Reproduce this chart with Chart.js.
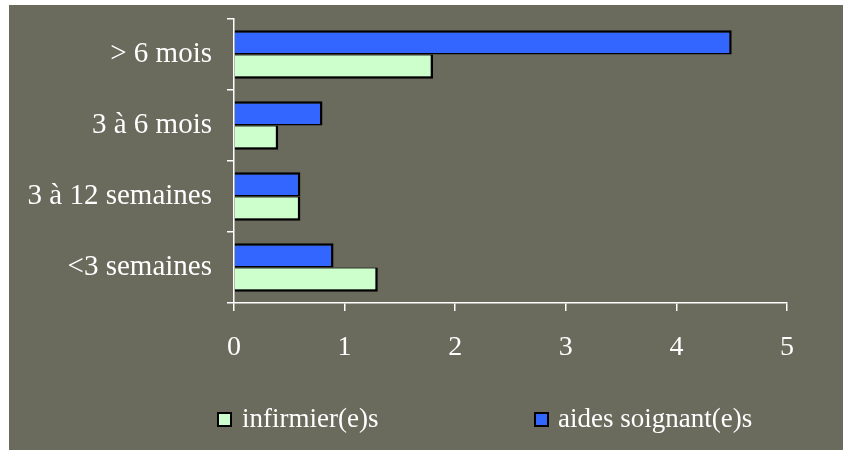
<!DOCTYPE html>
<html><head><meta charset="utf-8">
<script src="https://cdn.jsdelivr.net/npm/chart.js@4"></script>
<style>
html,body{margin:0;padding:0;background:#fff;width:843px;height:451px;overflow:hidden;}
#wrap{position:absolute;left:9px;top:5px;width:834px;height:445px;background:#6a6a5d;}
canvas{display:block;}
</style></head><body>
<div id="wrap"><canvas id="c" width="834" height="445"></canvas></div>
<script>
const categories = ['> 6 mois', '3 à 6 mois', '3 à 12 semaines', '<3 semaines'];
const aidesSoignants = [4.5, 0.8, 0.6, 0.9];
const infirmiers = [1.8, 0.4, 0.6, 1.3];
const seriesNames = ['aides soignant(e)s', 'infirmier(e)s'];
const xTicks = [0, 1, 2, 3, 4, 5];

const FONT = '"Liberation Serif", "Times New Roman", serif';
const legendItems = [ {ds: 1, box: 208, text: 233}, {ds: 0, box: 525, text: 549} ];

const legendPlugin = {
  id: 'customLegend',
  afterDraw(chart) {
    const ctx = chart.ctx;
    ctx.save();
    ctx.font = '27px ' + FONT;
    ctx.textBaseline = 'middle';
    ctx.textAlign = 'left';
    legendItems.forEach(it => {
      const ds = chart.data.datasets[it.ds];
      ctx.fillStyle = ds.backgroundColor;
      ctx.fillRect(it.box, 407, 15, 15);
      ctx.strokeStyle = '#000';
      ctx.lineWidth = 2;
      ctx.strokeRect(it.box + 1, 408, 13, 13);
      ctx.fillStyle = '#fff';
      ctx.fillText(ds.label, it.text, 415);
    });
    ctx.restore();
  }
};

new Chart(document.getElementById('c'), {
  type: 'bar',
  data: {
    labels: categories,
    datasets: [
      { label: seriesNames[0], data: aidesSoignants, backgroundColor: '#3366ff', borderColor: '#000',
        borderWidth: {top: 2.5, right: 2.5, bottom: 1.5, left: 0}, borderSkipped: false },
      { label: seriesNames[1], data: infirmiers, backgroundColor: '#ccffcc', borderColor: '#000',
        borderWidth: {top: 1, right: 2.5, bottom: 2.5, left: 0}, borderSkipped: false }
    ]
  },
  options: {
    responsive: false,
    animation: false,
    indexAxis: 'y',
    layout: { padding: { top: 14, right: 56, bottom: 87, left: 0 } },
    datasets: { bar: { categoryPercentage: 0.68, barPercentage: 1 } },
    plugins: { legend: { display: false }, tooltip: { enabled: false } },
    scales: {
      y: {
        offset: true,
        grid: { display: true, drawOnChartArea: false, drawTicks: true, tickLength: 7, color: '#fff', offset: true, lineWidth: 1.5 },
        border: { display: true, color: '#fff', width: 1.5 },
        ticks: { color: '#fff', font: { family: FONT, size: 29 }, padding: 15 },
        afterFit(s) { s.width = 225; s.paddingTop = 0; s.paddingBottom = 0; }
      },
      x: {
        min: 0, max: 5,
        grid: { display: true, drawOnChartArea: false, drawTicks: true, tickLength: 8, color: '#fff', lineWidth: 1.5 },
        border: { display: true, color: '#fff', width: 1.5 },
        ticks: { color: '#fff', font: { family: FONT, size: 28 }, padding: 20 },
        afterBuildTicks(s) { s.ticks = xTicks.map(v => ({ value: v })); },
        afterFit(s) { s.height = 60; s.paddingLeft = 0; s.paddingRight = 0; }
      }
    }
  },
  plugins: [legendPlugin]
});
</script>
</body></html>
